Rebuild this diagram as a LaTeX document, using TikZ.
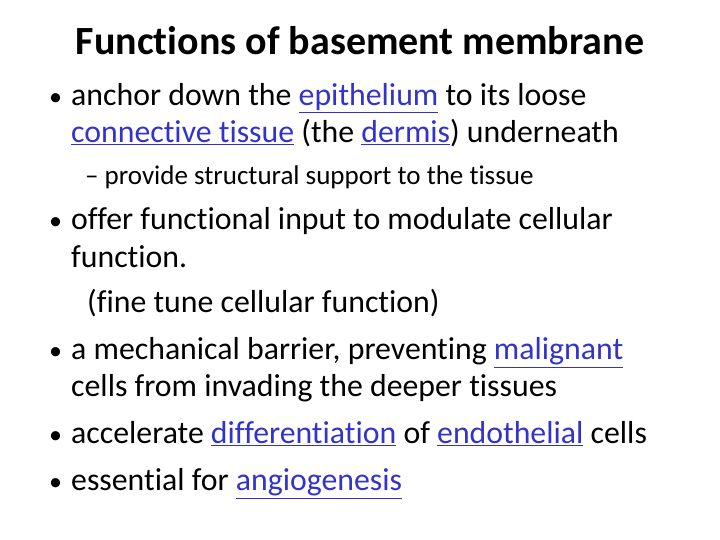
\documentclass[tikz,border=0pt]{standalone}
\usepackage{fontspec}
\setmainfont[Ligatures=NoCommon]{Carlito}
\definecolor{lb}{HTML}{3333CC}
\newcommand{\lk}[1]{\textcolor{lb}{\underline{#1}}}
\begin{document}
\begin{tikzpicture}[x=1pt,y=1pt,
  tx/.style={anchor=base west,inner sep=0pt,font=\fontsize{31.8}{36}\selectfont},
  sx/.style={anchor=base west,inner sep=0pt,font=\fontsize{27}{30}\selectfont},
  bl/.style={anchor=base west,inner sep=0pt,font=\fontsize{26}{32}\selectfont}]
\useasboundingbox (0,0) rectangle (720,540);
\fill[white] (0,0) rectangle (720,540);
\node[anchor=base,inner sep=0pt,font=\fontsize{40}{44}\selectfont\bfseries] (title) at (360,485) {Functions of basement membrane};
\node[bl] (b1) at (49,434) {•};
\node[tx] (l1) at (71,434) {anchor down the \lk{epithelium} to its loose};
\node[tx] (l2) at (71,397) {\lk{connective tissue} (the \lk{dermis}) underneath};
\node[sx] (l3) at (85,355) {– provide structural support to the tissue};
\node[bl] (b2) at (49,310) {•};
\node[tx] (l4) at (71,310) {offer functional input to modulate cellular};
\node[tx] (l5) at (71,272) {function.};
\node[tx] (l6) at (87,227) {(fine tune cellular function)};
\node[bl] (b3) at (49,180) {•};
\node[tx] (l7) at (71,180) {a mechanical barrier, preventing \lk{malignant}};
\node[tx] (l8) at (71,143) {cells from invading the deeper tissues};
\node[bl] (b4) at (49,96) {•};
\node[tx] (l9) at (71,96) {accelerate \lk{differentiation} of \lk{endothelial} cells};
\node[bl] (b5) at (49,49) {•};
\node[tx] (l10) at (71,49) {essential for \lk{angiogenesis}};
\end{tikzpicture}
\end{document}
